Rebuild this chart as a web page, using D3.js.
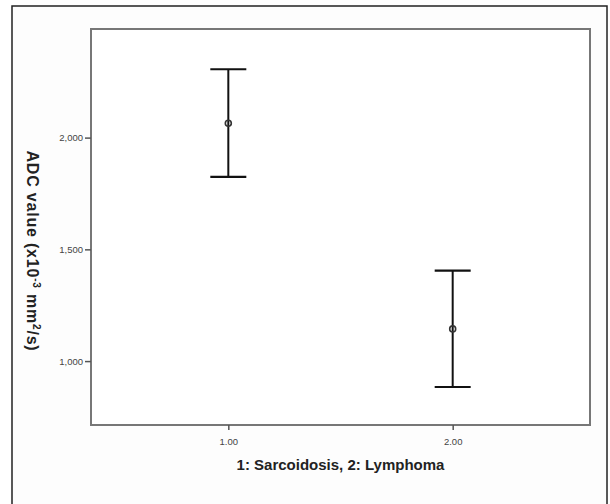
<!DOCTYPE html>
<html>
<head>
<meta charset="utf-8">
<script src="https://cdn.jsdelivr.net/npm/d3@7"></script>
<style>
  body { margin: 0; background: #fff; }
  text { font-family: "Liberation Sans", Arial, sans-serif; }
</style>
</head>
<body>
<div id="chart"></div>
<script>
// groups (1: Sarcoidosis, 2: Lymphoma)
const groups = [1, 2];
const means = [2064, 1144];
const upper = [2306, 1405];
const lower = [1824, 884];
const yTicks = [1000, 1500, 2000];
const xTicks = [1, 2];

const width = 610, height = 504;
const plot = { left: 91, top: 29, right: 590, bottom: 425 };

const svg = d3.select("#chart").append("svg")
  .attr("width", width)
  .attr("height", height);

// outer frame
svg.append("rect")
  .attr("x", 12).attr("y", 6)
  .attr("width", 595).attr("height", 510)
  .attr("fill", "#fdfdfd")
  .attr("stroke", "#222")
  .attr("stroke-width", 1.5);

const x = d3.scaleLinear().domain([0.388, 2.612]).range([plot.left, plot.right]);
const y = d3.scaleLinear().domain([714, 2486]).range([plot.bottom, plot.top]);

// plot box
svg.append("rect")
  .attr("x", plot.left).attr("y", plot.top)
  .attr("width", plot.right - plot.left)
  .attr("height", plot.bottom - plot.top)
  .attr("fill", "#fff")
  .attr("stroke", "#777")
  .attr("stroke-width", 2);

// y axis
const yAxis = svg.append("g")
  .attr("transform", `translate(${plot.left},0)`)
  .call(d3.axisLeft(y).tickValues(yTicks).tickSize(6).tickFormat(d3.format(",")));
yAxis.select(".domain").remove();
yAxis.selectAll("line").attr("stroke", "#555").attr("stroke-width", 1.5);
yAxis.selectAll("text").attr("fill", "#444").attr("font-size", 9.5).attr("x", -8);

// x axis
const xAxis = svg.append("g")
  .attr("transform", `translate(0,${plot.bottom})`)
  .call(d3.axisBottom(x).tickValues(xTicks).tickSize(5).tickFormat(d3.format(".2f")));
xAxis.select(".domain").remove();
xAxis.selectAll("line").attr("stroke", "#555").attr("stroke-width", 1.5);
xAxis.selectAll("text").attr("fill", "#444").attr("font-size", 9.5).attr("dy", "1.3em");

// error bars
const capHalf = 18;
const bars = svg.append("g").selectAll("g")
  .data(groups.map((g, i) => ({ g, m: means[i], hi: upper[i], lo: lower[i] })))
  .join("g");

bars.append("line")
  .attr("x1", d => x(d.g)).attr("x2", d => x(d.g))
  .attr("y1", d => y(d.hi)).attr("y2", d => y(d.lo))
  .attr("stroke", "#111").attr("stroke-width", 2);
bars.append("line")
  .attr("x1", d => x(d.g) - capHalf).attr("x2", d => x(d.g) + capHalf)
  .attr("y1", d => y(d.hi)).attr("y2", d => y(d.hi))
  .attr("stroke", "#111").attr("stroke-width", 2.2);
bars.append("line")
  .attr("x1", d => x(d.g) - capHalf).attr("x2", d => x(d.g) + capHalf)
  .attr("y1", d => y(d.lo)).attr("y2", d => y(d.lo))
  .attr("stroke", "#111").attr("stroke-width", 2.2);
bars.append("circle")
  .attr("cx", d => x(d.g)).attr("cy", d => y(d.m))
  .attr("r", 3)
  .attr("fill", "none")
  .attr("stroke", "#333").attr("stroke-width", 1.6);

// axis titles
svg.append("text")
  .attr("x", (plot.left + plot.right) / 2)
  .attr("y", 470)
  .attr("text-anchor", "middle")
  .attr("font-size", 15)
  .attr("font-weight", "bold")
  .attr("fill", "#222")
  .text("1: Sarcoidosis, 2: Lymphoma");

const yt = svg.append("text")
  .attr("transform", "translate(27,251) rotate(90)")
  .attr("text-anchor", "middle")
  .attr("font-size", 16)
  .attr("letter-spacing", 0.8)
  .attr("font-weight", "bold")
  .attr("fill", "#222");
yt.append("tspan").text("ADC value (x10");
yt.append("tspan").attr("dy", -6).attr("font-size", 10).text("-3");
yt.append("tspan").attr("dy", 6).text(" mm");
yt.append("tspan").attr("dy", -6).attr("font-size", 10).text("2");
yt.append("tspan").attr("dy", 6).text("/s)");
</script>
</body>
</html>
